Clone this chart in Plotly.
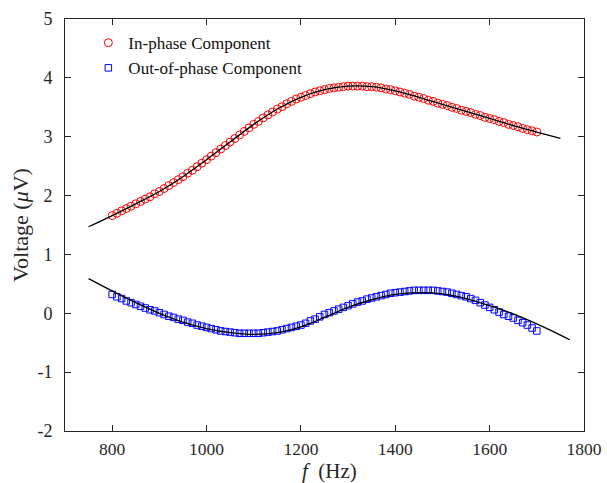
import plotly.graph_objects as go

# ---- data ----
f_data = [800, 810, 820, 830, 840, 850, 860, 870, 880, 890,
          900, 910, 920, 930, 940, 950, 960, 970, 980, 990,
          1000, 1010, 1020, 1030, 1040, 1050, 1060, 1070, 1080, 1090,
          1100, 1110, 1120, 1130, 1140, 1150, 1160, 1170, 1180, 1190,
          1200, 1210, 1220, 1230, 1240, 1250, 1260, 1270, 1280, 1290,
          1300, 1310, 1320, 1330, 1340, 1350, 1360, 1370, 1380, 1390,
          1400, 1410, 1420, 1430, 1440, 1450, 1460, 1470, 1480, 1490,
          1500, 1510, 1520, 1530, 1540, 1550, 1560, 1570, 1580, 1590,
          1600, 1610, 1620, 1630, 1640, 1650, 1660, 1670, 1680, 1690, 1700]

in_phase = [1.66, 1.70, 1.74, 1.78, 1.82, 1.86, 1.90, 1.94, 1.98, 2.03,
            2.07, 2.12, 2.17, 2.22, 2.27, 2.32, 2.38, 2.43, 2.49, 2.55,
            2.61, 2.67, 2.73, 2.79, 2.85, 2.91, 2.97, 3.03, 3.09, 3.15,
            3.21, 3.26, 3.32, 3.37, 3.42, 3.47, 3.51, 3.56, 3.60, 3.64,
            3.67, 3.70, 3.73, 3.76, 3.78, 3.80, 3.82, 3.83, 3.84, 3.85,
            3.86, 3.86, 3.86, 3.86, 3.85, 3.85, 3.84, 3.83, 3.81, 3.80,
            3.78, 3.76, 3.74, 3.72, 3.69, 3.67, 3.65, 3.62, 3.60, 3.57,
            3.55, 3.53, 3.50, 3.48, 3.45, 3.43, 3.41, 3.38, 3.36, 3.33,
            3.31, 3.29, 3.26, 3.24, 3.21, 3.19, 3.17, 3.14, 3.12, 3.10, 3.08]

out_phase = [0.32, 0.28, 0.25, 0.21, 0.18, 0.15, 0.12, 0.09, 0.06, 0.04,
             0.01, -0.02, -0.05, -0.07, -0.10, -0.12, -0.15, -0.17, -0.20, -0.22,
             -0.24, -0.26, -0.28, -0.30, -0.31, -0.32, -0.33, -0.34, -0.34, -0.34,
             -0.34, -0.34, -0.33, -0.32, -0.31, -0.30, -0.28, -0.26, -0.24, -0.22,
             -0.20, -0.17, -0.13, -0.10, -0.06, -0.02, 0.01, 0.04, 0.07, 0.10,
             0.13, 0.16, 0.19, 0.21, 0.24, 0.26, 0.28, 0.30, 0.32, 0.34,
             0.35, 0.36, 0.37, 0.38, 0.39, 0.39, 0.39, 0.39, 0.39, 0.38,
             0.37, 0.36, 0.34, 0.32, 0.30, 0.28, 0.25, 0.22, 0.18, 0.14,
             0.10, 0.06, 0.02, -0.02, -0.05, -0.08, -0.12, -0.16, -0.20, -0.25, -0.30]

f_fit_in = [750, 800, 850, 900, 950, 1000, 1050, 1100, 1150, 1200, 1250,
            1300, 1350, 1400, 1450, 1500, 1550, 1600, 1650, 1700, 1750]
fit_in = [1.47, 1.66, 1.86, 2.07, 2.32, 2.61, 2.91, 3.21, 3.47, 3.67, 3.80,
          3.86, 3.85, 3.78, 3.67, 3.55, 3.43, 3.31, 3.19, 3.08, 2.97]

f_fit_out = [750, 800, 850, 900, 950, 1000, 1050, 1100, 1150, 1200, 1250,
             1300, 1350, 1400, 1450, 1500, 1550, 1600, 1650, 1700, 1750, 1770]
fit_out = [0.59, 0.38, 0.18, 0.00, -0.15, -0.26, -0.33, -0.36, -0.33, -0.23, -0.07,
           0.10, 0.23, 0.32, 0.35, 0.33, 0.25, 0.13, -0.01, -0.18, -0.37, -0.45]

x_ticks = [800, 1000, 1200, 1400, 1600, 1800]
y_ticks = [-2, -1, 0, 1, 2, 3, 4, 5]
y_tick_text = ["-2", "-1", "0", "1", "2", "3", "4", "5"]

FONT = "Liberation Serif, Times New Roman, serif"
AX = "#262626"

fig = go.Figure()
fig.add_trace(go.Scatter(x=f_data, y=in_phase, mode="markers", name="In-phase Component",
                         marker=dict(symbol="circle-open", size=8, color="#ff0000",
                                     line=dict(width=1, color="#ff0000"))))
fig.add_trace(go.Scatter(x=f_data, y=out_phase, mode="markers", name="Out-of-phase Component",
                         marker=dict(symbol="square-open", size=6.5, color="#0000ff",
                                     line=dict(width=1, color="#0000ff"))))
fig.add_trace(go.Scatter(x=f_fit_in, y=fit_in, mode="lines", showlegend=False,
                         line=dict(color="black", width=1.3, shape="spline")))
fig.add_trace(go.Scatter(x=f_fit_out, y=fit_out, mode="lines", showlegend=False,
                         line=dict(color="black", width=1.3, shape="spline")))

fig.update_layout(
    width=607, height=483,
    margin=dict(l=65, r=23, t=19, b=52),
    paper_bgcolor="white", plot_bgcolor="white",
    font=dict(family=FONT, color=AX, size=16),
    showlegend=True,
    legend=dict(x=0.045, y=0.985, xanchor="left", yanchor="top",
                bgcolor="rgba(0,0,0,0)", borderwidth=0,
                font=dict(family=FONT, size=17, color="#111111"),
                tracegroupgap=0, itemwidth=30),
    annotations=[dict(text="<i>f</i>\u00a0\u00a0(Hz)", xref="paper", yref="paper",
                      x=0.51, y=-0.097, xanchor="center", yanchor="middle", showarrow=False,
                      font=dict(family=FONT, size=21, color=AX))],
)
fig.update_xaxes(range=[700, 1800], tickvals=x_ticks, ticks="inside", ticklen=6,
                 tickcolor=AX, showline=True, linecolor=AX, linewidth=1, mirror="ticks",
                 showgrid=False, zeroline=False, ticklabelstandoff=2, automargin=False,
                 tickfont=dict(family=FONT, size=17.5, color=AX))
fig.update_yaxes(range=[-2, 5], tickvals=y_ticks, ticktext=y_tick_text, ticks="inside", ticklen=6,
                 tickcolor=AX, showline=True, linecolor=AX, linewidth=1, mirror="ticks",
                 showgrid=False, zeroline=False, ticklabelstandoff=8, automargin=False,
                 tickfont=dict(family=FONT, size=18, color=AX),
                 title=dict(text="Voltage (<i>μ</i>V)", font=dict(family=FONT, size=22, color=AX), standoff=2))

fig.write_html("out.html")
